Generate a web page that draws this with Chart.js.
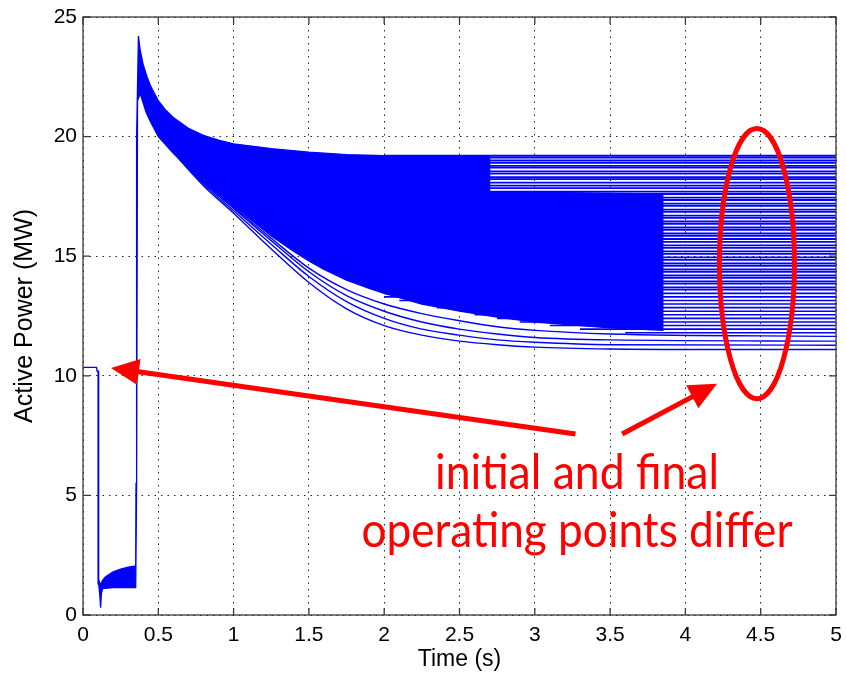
<!DOCTYPE html>
<html>
<head>
<meta charset="utf-8">
<script src="https://cdn.jsdelivr.net/npm/chart.js@4.4.0/dist/chart.umd.min.js"></script>
<style>
  html, body { margin: 0; padding: 0; background: #fff; }
  canvas { display: block; }
</style>
</head>
<body>
<canvas id="powerChart" width="846" height="678"></canvas>
<script>
// values: [time (s), active power (MW)]
// upper edge of the bundle of runs, left to right
const upperEdge = [
  [0, 10.35], [0.09, 10.35], [0.093, 10.2], [0.1, 10.2], [0.102, 5.3], [0.106, 1.5],
  [0.115, 1.25], [0.13, 1.45], [0.15, 1.6], [0.2, 1.8], [0.25, 1.92], [0.3, 2.0],
  [0.35, 2.05], [0.352, 5.5], [0.356, 20.0], [0.368, 24.2], [0.38, 23.6], [0.4, 23.0],
  [0.425, 22.5], [0.45, 22.1], [0.5, 21.5], [0.55, 21.1], [0.6, 20.8], [0.7, 20.35],
  [0.8, 20.05], [0.9, 19.85], [1.0, 19.7], [1.25, 19.5], [1.5, 19.35], [1.75, 19.25],
  [2.0, 19.2], [2.7, 19.2], [2.7, 17.7], [3.85, 17.6]
];
// lower edge of the dense part of the bundle, left to right
const lowerEdge = [
  [0, 10.35], [0.09, 10.35], [0.093, 10.2], [0.1, 10.2], [0.1, 5.0], [0.104, 1.3],
  [0.112, 0.8], [0.117, 0.3], [0.122, 0.9], [0.13, 1.1], [0.2, 1.15], [0.35, 1.15],
  [0.356, 5.5], [0.362, 21.5], [0.38, 21.8], [0.42, 21.0], [0.45, 20.6], [0.5, 20.0],
  [0.6, 19.3], [0.7, 18.7], [0.8, 18.15], [0.9, 17.6], [1.0, 17.1], [1.1, 16.6],
  [1.25, 15.85], [1.4, 15.2], [1.5, 14.8], [1.6, 14.45], [1.75, 14.0], [1.9, 13.65],
  [2.0, 13.45], [2.25, 13.0], [2.5, 12.7], [2.75, 12.45], [3.0, 12.25], [3.5, 12.0],
  [3.85, 11.9]
];
// the few runs that separate below the bundle
const runLow1 = [[0.5, 20.05], [0.8, 17.95], [1.0, 16.8], [1.25, 15.3], [1.5, 13.9], [1.75, 12.8], [2.0, 12.1], [2.25, 11.7], [2.5, 11.45], [2.75, 11.3], [3.0, 11.2], [3.5, 11.12], [4.0, 11.1], [5, 11.1]];
const runLow2 = [[0.5, 20.08], [0.8, 18.02], [1.0, 16.9], [1.25, 15.5], [1.5, 14.15], [1.75, 13.1], [2.0, 12.4], [2.25, 11.95], [2.5, 11.7], [2.75, 11.5], [3.0, 11.4], [3.5, 11.3], [5, 11.28]];
const runLow3 = [[0.5, 20.1], [0.8, 18.08], [1.0, 17.0], [1.25, 15.65], [1.5, 14.35], [1.75, 13.35], [2.0, 12.7], [2.25, 12.25], [2.5, 11.95], [2.75, 11.75], [3.0, 11.6], [3.5, 11.5], [5, 11.45]];
const runLow4 = [[0.5, 20.12], [0.8, 18.12], [1.0, 17.05], [1.25, 15.75], [1.5, 14.5], [1.75, 13.6], [2.0, 13.0], [2.25, 12.6], [2.5, 12.3], [2.75, 12.05], [3.0, 11.9], [3.5, 11.75], [5, 11.65]];

// final operating points (MW), flat from settleTime to the end
const settleTime = 2.0;
const finalLevels = [
  19.2, 19.12, 19.0, 18.9, 18.78, 18.7, 18.55, 18.45, 18.3, 18.22, 18.08, 17.95,
  17.85, 17.7, 17.6, 17.45, 17.35, 17.2, 17.1, 16.95, 16.85, 16.7, 16.6, 16.45,
  16.35, 16.2, 16.1, 15.95, 15.85, 15.72, 15.6, 15.45, 15.35, 15.2, 15.1, 14.95,
  14.85, 14.7, 14.6, 14.45, 14.35, 14.2, 14.1, 13.95, 13.85, 13.7, 13.6, 13.45, 13.3
];
// the lowest final levels settle later
const lateLevels = [13.15, 13.0, 12.85, 12.7, 12.55, 12.4, 12.25, 12.1, 11.95, 11.8];
const lateStarts = [2.1, 2.25, 2.35, 2.5, 2.6, 2.75, 2.9, 3.1, 3.3, 3.6];

const tEnd = 5;
const xTicks = [0, 0.5, 1, 1.5, 2, 2.5, 3, 3.5, 4, 4.5, 5];
const yTicks = [0, 5, 10, 15, 20, 25];

// annotation, in data units
const ellipseAt = [4.475, 14.69];
const ellipseSize = [0.249, 5.65];
const arrows = [
  [3.27, 7.57, 0.186, 10.33],
  [3.58, 7.57, 4.21, 9.67]
];
const noteLines = ['initial and final', 'operating points differ'];
const noteCenter = 3.28;
const noteBaselines = [5.27, 2.85];
const noteWidths = [1.886, 2.862];

const BLUE = '#0000ff';
const RED = '#ff0000';

const toPts = arr => arr.map(([t, p]) => ({ x: t, y: p }));

const datasets = [];
datasets.push({
  data: toPts(upperEdge).concat(toPts(lowerEdge).reverse()),
  fill: 'shape',
  backgroundColor: BLUE,
  borderColor: BLUE,
  borderWidth: 1.3
});
[runLow1, runLow2, runLow3, runLow4].forEach(run => {
  datasets.push({ data: toPts(run), borderColor: BLUE, borderWidth: 1.4, fill: false, cubicInterpolationMode: 'monotone' });
});
finalLevels.forEach(p => {
  datasets.push({ data: [{ x: settleTime, y: p }, { x: tEnd, y: p }], borderColor: BLUE, borderWidth: 1.8, fill: false });
});
lateLevels.forEach((p, i) => {
  datasets.push({ data: [{ x: lateStarts[i], y: p }, { x: tEnd, y: p }], borderColor: BLUE, borderWidth: 1.6, fill: false });
});

const frame = {
  id: 'frame',
  afterDatasetsDraw(chart) {
    const { ctx, chartArea: a, scales: { x, y } } = chart;
    ctx.save();
    ctx.strokeStyle = '#3a3a3a';
    ctx.lineWidth = 1.3;
    ctx.strokeRect(a.left, a.top, a.right - a.left, a.bottom - a.top);
    ctx.beginPath();
    xTicks.forEach(v => {
      const px = x.getPixelForValue(v);
      ctx.moveTo(px, a.bottom); ctx.lineTo(px, a.bottom - 7);
      ctx.moveTo(px, a.top); ctx.lineTo(px, a.top + 7);
    });
    yTicks.forEach(v => {
      const py = y.getPixelForValue(v);
      ctx.moveTo(a.left, py); ctx.lineTo(a.left + 7, py);
      ctx.moveTo(a.right, py); ctx.lineTo(a.right - 7, py);
    });
    ctx.stroke();
    ctx.restore();
  }
};

function drawArrow(ctx, x0, y0, x1, y1) {
  const len = Math.hypot(x1 - x0, y1 - y0);
  const ux = (x1 - x0) / len, uy = (y1 - y0) / len;
  const head = 28, half = 13;
  const bx = x1 - ux * head, by = y1 - uy * head;
  ctx.beginPath();
  ctx.moveTo(x0, y0);
  ctx.lineTo(bx + ux * 2, by + uy * 2);
  ctx.stroke();
  ctx.beginPath();
  ctx.moveTo(x1, y1);
  ctx.lineTo(bx - uy * half, by + ux * half);
  ctx.lineTo(bx + uy * half, by - ux * half);
  ctx.closePath();
  ctx.fill();
}

const annotate = {
  id: 'annotate',
  afterDraw(chart) {
    const { ctx, scales: { x, y } } = chart;
    ctx.save();
    ctx.strokeStyle = RED;
    ctx.fillStyle = RED;
    ctx.lineWidth = 5;

    const cx = x.getPixelForValue(ellipseAt[0]);
    const cy = y.getPixelForValue(ellipseAt[1]);
    const rx = x.getPixelForValue(ellipseAt[0] + ellipseSize[0]) - cx;
    const ry = cy - y.getPixelForValue(ellipseAt[1] + ellipseSize[1]);
    ctx.beginPath();
    ctx.ellipse(cx, cy, rx, ry, 0, 0, Math.PI * 2);
    ctx.stroke();

    arrows.forEach(([t0, p0, t1, p1]) => {
      drawArrow(ctx, x.getPixelForValue(t0), y.getPixelForValue(p0), x.getPixelForValue(t1), y.getPixelForValue(p1));
    });

    ctx.font = '48px Lato, "Open Sans", sans-serif';
    ctx.textAlign = 'center';
    ctx.textBaseline = 'alphabetic';
    const tx = x.getPixelForValue(noteCenter);
    noteLines.forEach((line, i) => {
      const want = x.getPixelForValue(noteWidths[i]) - x.getPixelForValue(0);
      const sx = want / ctx.measureText(line).width;
      ctx.save();
      ctx.translate(tx, y.getPixelForValue(noteBaselines[i]));
      ctx.scale(sx, 1);
      ctx.fillText(line, 0, 0);
      ctx.restore();
    });
    ctx.restore();
  }
};

const tickFont = { family: 'Arial, "Liberation Sans", sans-serif', size: 21 };

new Chart(document.getElementById('powerChart'), {
  type: 'line',
  data: { datasets },
  options: {
    responsive: false,
    animation: false,
    events: [],
    layout: { padding: { top: 17, right: 10, left: 0, bottom: 0 } },
    elements: { point: { radius: 0 }, line: { tension: 0, borderCapStyle: 'butt' } },
    plugins: { legend: { display: false }, tooltip: { enabled: false } },
    scales: {
      x: {
        type: 'linear',
        min: 0,
        max: tEnd,
        afterBuildTicks: s => { s.ticks = xTicks.map(v => ({ value: v })); },
        afterFit: s => { s.height = 63; s.paddingLeft = 0; s.paddingRight = 0; },
        grid: { color: '#222', lineWidth: 1, drawTicks: false },
        border: { display: false, dash: [1.5, 5] },
        ticks: { font: tickFont, color: '#000', padding: 8, maxRotation: 0, autoSkip: false, callback: v => String(v) },
        title: {
          display: true, text: 'Time (s)', color: '#000',
          font: { family: 'Arial, "Liberation Sans", sans-serif', size: 23 },
          padding: { top: 0, bottom: 5 }
        }
      },
      y: {
        min: 0,
        max: 25,
        afterBuildTicks: s => { s.ticks = yTicks.map(v => ({ value: v })); },
        afterFit: s => { s.width = 83; s.paddingTop = 0; s.paddingBottom = 0; },
        grid: { color: '#222', lineWidth: 1, drawTicks: false },
        border: { display: false, dash: [1.5, 5] },
        ticks: { font: tickFont, color: '#000', padding: 6 },
        title: {
          display: true, text: 'Active Power (MW)', color: '#000',
          font: { family: 'Arial, "Liberation Sans", sans-serif', size: 25 },
          padding: { top: 10, bottom: 0 }
        }
      }
    }
  },
  plugins: [frame, annotate]
});
</script>
</body>
</html>
